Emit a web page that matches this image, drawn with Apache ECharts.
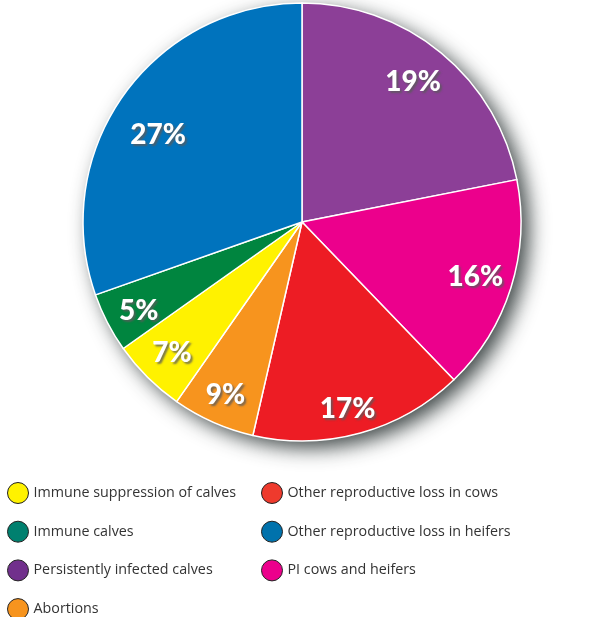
<!DOCTYPE html>
<html><head><meta charset="utf-8">
<script src="https://cdn.jsdelivr.net/npm/echarts@6/dist/echarts.min.js"></script>
<style>html,body{margin:0;padding:0;background:#fff}#c{width:613px;height:617px}</style>
</head><body><div id="c"></div>
<script>
const categories = ['Persistently infected calves','PI cows and heifers','Other reproductive loss in cows','Abortions','Immune suppression of calves','Immune calves','Other reproductive loss in heifers'];
// slice shares as drawn in the picture (clockwise from 12 o'clock)
const shares = [21.9, 15.9, 15.8, 6.1, 5.5, 4.4, 30.4];
const percentLabels = ['19%','16%','17%','9%','7%','5%','27%'];
const sliceColors = ['#8C3F97','#EC008C','#ED1C24','#F7941E','#FFF200','#00853F','#0073BD'];
const legendLeftNames = ['Immune suppression of calves','Immune calves','Persistently infected calves','Abortions'];
const legendLeftColors = ['#FFF200','#00806F','#71308C','#F7941E'];
const legendRightNames = ['Other reproductive loss in cows','Other reproductive loss in heifers','PI cows and heifers'];
const legendRightColors = ['#EE3A2D','#0072AC','#EC008C'];

const center = [302, 222];
const R = 219;
// small label nudges (style only)
const labelNudges = [[-7,4],[-4,-1],[-4,8],[-1,3],[1,-1],[2,3],[8,20]];

const chart = echarts.init(document.getElementById('c'), null, {renderer:'canvas'});
const mkLegend = (names, colors, left) => ({
  orient:'vertical', left: left, top: 482, height: 140, padding: 0,
  itemWidth: 21, itemHeight: 21, itemGap: 16.7,
  icon: 'circle', selectedMode: false,
  textStyle: {fontFamily:'Open Sans', fontSize: 14.3, color:'#333'},
  data: names.map((n,i)=>({name:n, itemStyle:{color:colors[i], borderColor:'#222', borderWidth:1}}))
});
chart.setOption({
  animation:false,
  backgroundColor:'#fff',
  legend:[mkLegend(legendLeftNames, legendLeftColors, 7), mkLegend(legendRightNames, legendRightColors, 261)],
  series:[
    {type:'pie', silent:true, center:center, radius:[0,R], z:1,
     label:{show:false}, labelLine:{show:false},
     itemStyle:{color:'#fff', shadowBlur:20, shadowColor:'rgba(30,40,40,0.85)', shadowOffsetX:8, shadowOffsetY:7},
     data:[{name:'__bg', value:1}]},
    {type:'pie', silent:true, center:center, radius:[0,R], startAngle:90, clockwise:true, z:2,
     avoidLabelOverlap:false, label:{show:false}, labelLine:{show:false},
     itemStyle:{borderColor:'#fff', borderWidth:1.5},
     data: categories.map((n,i)=>({name:n, value:shares[i], itemStyle:{color:sliceColors[i]}}))},
    {type:'pie', silent:true, center:center, radius:[148,218], startAngle:90, clockwise:true, z:3,
     avoidLabelOverlap:false, labelLine:{show:false},
     itemStyle:{color:'rgba(0,0,0,0)'},
     label:{show:true, position:'inside', fontFamily:'Lato', fontWeight:900, fontSize:28, color:'#fff',
            textShadowColor:'rgba(90,90,90,0.8)', textShadowOffsetX:2, textShadowOffsetY:2, textShadowBlur:2,
            formatter:(p)=>percentLabels[p.dataIndex]},
     data: categories.map((n,i)=>({name:n, value:shares[i], label:{offset:labelNudges[i]}}))}
  ]
});
</script></body></html>
